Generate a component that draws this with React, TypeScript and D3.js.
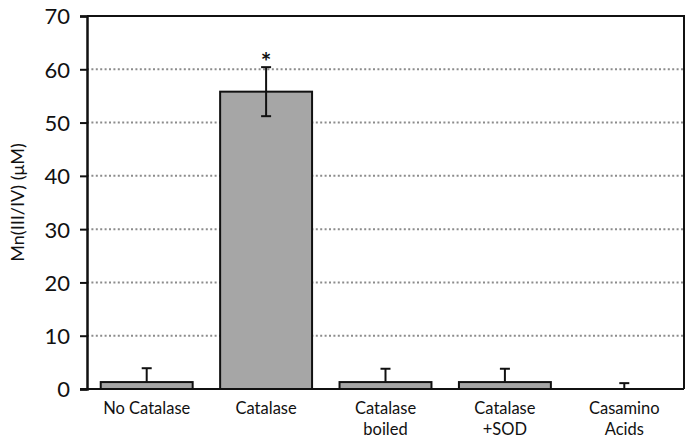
import React, { useEffect, useRef } from "react";
import * as d3 from "d3";

const categories = [["No Catalase"], ["Catalase"], ["Catalase", "boiled"], ["Catalase", "+SOD"], ["Casamino", "Acids"]];
const means = [1.3, 55.8, 1.3, 1.3, 0];
const errors = [2.6, 4.6, 2.5, 2.5, 1.1];
const marks = ["", "*", "", "", ""];
const yTicks = [0, 10, 20, 30, 40, 50, 60, 70];

const App = () => {
  const ref = useRef<SVGSVGElement>(null);

  useEffect(() => {
    const width = 693;
    const height = 442;
    const margin = { top: 16, right: 9, bottom: 53, left: 87 };
    const innerW = width - margin.left - margin.right;
    const innerH = height - margin.top - margin.bottom;
    const font = "Lato, 'Open Sans', sans-serif";

    const root = d3.select(ref.current);
    root.selectAll("*").remove();
    root.attr("width", width).attr("height", height);
    root.append("rect").attr("width", width).attr("height", height).attr("fill", "#fff");

    const svg = root.append("g").attr("transform", `translate(${margin.left}, ${margin.top})`);

    const ids = categories.map((_, i) => String(i));
    const x = d3.scaleBand().domain(ids).range([0, innerW]).paddingInner(0.23).paddingOuter(0.115);
    const y = d3.scaleLinear().domain([0, 70]).range([innerH, 0]);

    // dotted gridlines
    svg.selectAll(".grid")
      .data(yTicks.filter(t => t > 0 && t < 70))
      .enter()
      .append("line")
      .attr("x1", 0)
      .attr("x2", innerW)
      .attr("y1", d => y(d))
      .attr("y2", d => y(d))
      .attr("stroke", "#8c8c8c")
      .attr("stroke-width", 2)
      .attr("stroke-dasharray", "2,2.4");

    // bars
    svg.selectAll(".bar")
      .data(means)
      .enter()
      .append("rect")
      .attr("x", (_, i) => x(ids[i])!)
      .attr("y", d => y(d))
      .attr("width", x.bandwidth())
      .attr("height", d => innerH - y(d))
      .attr("fill", "#a6a6a6")
      .attr("stroke", d => (d > 0 ? "#111" : "none"))
      .attr("stroke-width", 2);

    // error bars
    means.forEach((m, i) => {
      const cx = x(ids[i])! + x.bandwidth() / 2;
      const e = errors[i];
      const lo = i === 1 ? m - e : m;
      const g = svg.append("g").attr("stroke", "#111").attr("stroke-width", 2);
      g.append("line").attr("x1", cx).attr("x2", cx).attr("y1", y(lo)).attr("y2", y(m + e));
      g.append("line").attr("x1", cx - 5).attr("x2", cx + 5).attr("y1", y(m + e)).attr("y2", y(m + e));
      if (i === 1) {
        g.append("line").attr("x1", cx - 5).attr("x2", cx + 5).attr("y1", y(lo)).attr("y2", y(lo));
      }
      if (marks[i]) {
        svg.append("text")
          .attr("x", cx)
          .attr("y", y(m + e) + 4)
          .attr("text-anchor", "middle")
          .attr("font-family", font)
          .attr("font-size", 25)
          .attr("font-weight", "bold")
          .attr("fill", "#111")
          .text(marks[i]);
      }
    });

    // frame: top and right
    svg.append("path")
      .attr("d", `M0,0H${innerW}V${innerH}`)
      .attr("fill", "none")
      .attr("stroke", "#111")
      .attr("stroke-width", 2);

    // y axis
    const yAxis = svg.append("g")
      .call(d3.axisLeft(y).tickValues(yTicks).tickSize(7).tickPadding(10).tickFormat(d3.format("d")));
    yAxis.select(".domain").attr("stroke", "#111").attr("stroke-width", 2.5);
    yAxis.selectAll(".tick line").attr("stroke", "#111").attr("stroke-width", 2);
    yAxis.selectAll(".tick text")
      .attr("font-family", font)
      .attr("font-size", 22)
      .attr("fill", "#111")
      .attr("dy", "0.36em");

    // x axis line
    svg.append("line")
      .attr("x1", -7)
      .attr("x2", innerW)
      .attr("y1", innerH)
      .attr("y2", innerH)
      .attr("stroke", "#111")
      .attr("stroke-width", 2);

    // x labels
    categories.forEach((lines, i) => {
      const cx = x(ids[i])! + x.bandwidth() / 2;
      const t = svg.append("text")
        .attr("text-anchor", "middle")
        .attr("font-family", font)
        .attr("font-size", 16.5)
        .attr("fill", "#111");
      lines.forEach((ln, j) => {
        t.append("tspan").attr("x", cx).attr("y", innerH + 25 + j * 21).text(ln);
      });
    });

    // y title
    root.append("text")
      .attr("transform", `translate(24, ${margin.top + innerH / 2}) rotate(-90)`)
      .attr("text-anchor", "middle")
      .attr("font-family", font)
      .attr("font-size", 18)
      .attr("fill", "#111")
      .text("Mn(III/IV) (μM)");
  }, []);

  return <svg ref={ref} style={{ position: "absolute", left: 0, top: 0, display: "block" }}></svg>;
};

export default App;
